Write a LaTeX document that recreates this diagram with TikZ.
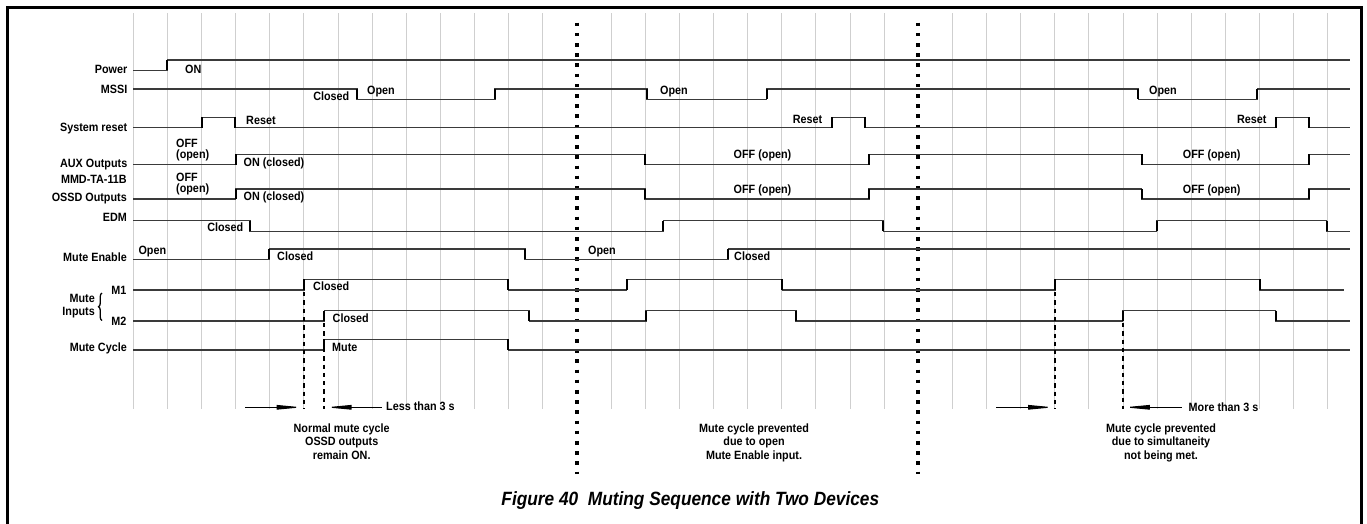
\documentclass[tikz,border=0pt]{standalone}
\usepackage{fontspec}
\setmainfont{Liberation Sans}[FakeStretch=0.9]
\usetikzlibrary{arrows.meta,decorations.pathreplacing}
\definecolor{gridc}{HTML}{CFCFCF}
\definecolor{sigc}{HTML}{3A3A3A}
\tikzset{
  lbl/.style={font=\fontsize{12}{12}\selectfont\bfseries, inner sep=0pt, text=black},
  lbltwo/.style={lbl, align=left, font=\fontsize{12}{11.5}\selectfont\bfseries},
  note/.style={lbl, align=center, font=\fontsize{12}{13.3}\selectfont\bfseries},
  captionfont/.style={inner sep=0pt, font=\fontsize{19.2}{19.2}\selectfont\bfseries\itshape},
  gridln/.style={draw=gridc, line width=0.9pt},
  wire/.style={draw=sigc, line width=1.1pt},
  edgeln/.style={draw=black, line width=2.3pt},
  sepline/.style={draw=black, line width=3.6pt, dash pattern=on 3.6pt off 6.6pt},
  cue/.style={draw=black, line width=2pt, dash pattern=on 4.3pt off 4pt},
  arr/.style={draw=black, line width=1.1pt, -{Triangle[length=26pt,width=4.5pt]}},
  framebox/.style={draw=black, line width=3.5pt},
}
\begin{document}
\begin{tikzpicture}[x=1pt,y=-1pt]
\useasboundingbox (0,0) rectangle (1367,524);
\fill[white] (0,0) rectangle (1367,524);
\draw[framebox] (7.7,530) -- (7.7,7.7) -- (1361.3,7.7) -- (1361.3,530);

% grid
\foreach \i in {0,...,35}{
  \ifnum\i=13\relax\else\ifnum\i=23\relax\else
    \draw[gridln] ({133.3+34.126*\i},13.3) -- ({133.3+34.126*\i},408.5);
  \fi\fi
}

% separators
\draw[sepline] ({133.3+34.126*13},22.7) -- ({133.3+34.126*13},474);
\draw[sepline] ({133.3+34.126*23},22.7) -- ({133.3+34.126*23},474);

% waveforms
\draw[wire] (133.3,70.3) -| (167.3,60) -- (1350,60);
\foreach \x in {167.3} \draw[edgeln] (\x,60) -- (\x,70.3);

\draw[wire] (133.3,89) -| (357,99.3) -| (495,89) -| (647,99.3) -| (766.7,89) -| (1138.3,99.3) -| (1257.3,89) -- (1350,89);
\foreach \x in {357,495,647,766.7,1138.3,1257.3} \draw[edgeln] (\x,89) -- (\x,99.3);

\draw[wire] (133.3,127.7) -| (201.7,117.3) -| (235.3,127.7) -| (832.3,117.3) -| (865,127.7) -| (1275.7,117.3) -| (1309,127.7) -- (1350,127.7);
\foreach \x in {201.7,235.3,832.3,865,1275.7,1309} \draw[edgeln] (\x,117.3) -- (\x,127.7);

\draw[wire] (133.3,164.7) -| (235.7,154.3) -| (645,164.7) -| (869,154.3) -| (1141.7,164.7) -| (1309,154.3) -- (1350,154.3);
\foreach \x in {235.7,645,869,1141.7,1309} \draw[edgeln] (\x,154.3) -- (\x,164.7);

\draw[wire] (133.3,199) -| (235.7,189) -| (645,199) -| (869,189) -| (1141.7,199) -| (1309,189) -- (1350,189);
\foreach \x in {235.7,645,869,1141.7,1309} \draw[edgeln] (\x,189) -- (\x,199);

\draw[wire] (133.3,220.7) -| (250,231.3) -| (663.3,220.7) -| (883.3,231.3) -| (1156.7,220.7) -| (1326.7,231.3) -- (1350,231.3);
\foreach \x in {250,663.3,883.3,1156.7,1326.7} \draw[edgeln] (\x,220.7) -- (\x,231.3);

\draw[wire] (133.3,259.3) -| (269.3,249) -| (525,259.3) -| (728.3,249) -- (1350,249);
\foreach \x in {269.3,525,728.3} \draw[edgeln] (\x,249) -- (\x,259.3);

\draw[wire] (133.3,290) -| (304,279.3) -| (508.3,290) -| (626.7,279.3) -| (782.3,290) -| (1055,279.3) -| (1260,290) -- (1344,290);
\foreach \x in {304,508.3,626.7,782.3,1055,1260} \draw[edgeln] (\x,279.3) -- (\x,290);

\draw[wire] (133.3,321) -| (324.3,310.7) -| (529.3,321) -| (646,310.7) -| (796,321) -| (1122.7,310.7) -| (1275.7,321) -- (1350,321);
\foreach \x in {324.3,529.3,646,796,1122.7,1275.7} \draw[edgeln] (\x,310.7) -- (\x,321);

\draw[wire] (133.3,350) -| (324.3,339.3) -| (508.3,350) -- (1350,350);
\foreach \x in {324.3,508.3} \draw[edgeln] (\x,339.3) -- (\x,350);

% dashed cue lines
\draw[cue] (304,292) -- (304,409);
\draw[cue] (324.3,323) -- (324.3,409);
\draw[cue] (1055,292) -- (1055,409);
\draw[cue] (1122.7,323) -- (1122.7,409);

% left labels
\node[lbl, anchor=base east] (lpow) at (127.5,74) {Power};
\node[lbl, anchor=base east] (lmssi) at (127.5,93.3) {MSSI};
\node[lbl, anchor=base east] (lrst) at (127.5,131.7) {System reset};
\node[lbl, anchor=base east] (laux) at (127.5,167.7) {AUX Outputs};
\node[lbl, anchor=base east] (lmmd) at (127,183.3) {MMD-TA-11B};
\node[lbl, anchor=base east] (lossd) at (127,201.7) {OSSD Outputs};
\node[lbl, anchor=base east] (ledm) at (127,221.7) {EDM};
\node[lbl, anchor=base east] (lme) at (127,261) {Mute Enable};
\node[lbl, anchor=base east] (lm1) at (126.7,294) {M1};
\node[lbl, anchor=base east] (lm2) at (126.7,325.7) {M2};
\node[lbl, anchor=base east] (lmute) at (95,302.7) {Mute};
\node[lbl, anchor=base east] (linp) at (95,315.7) {Inputs};
\node[lbl, anchor=base east] (lmc) at (127,351.7) {Mute Cycle};
\draw[line width=1.3pt, decorate, decoration={brace, amplitude=3.5pt}] (102,320.5) -- (102,293);

% in-signal labels
\node[lbl, anchor=base west] (son) at (185,74) {ON};
\node[lbl, anchor=base east] (smc) at (349.5,101) {Closed};
\node[lbl, anchor=base west] (smo1) at (367,94.3) {Open};
\node[lbl, anchor=base west] (smo2) at (660,94.3) {Open};
\node[lbl, anchor=base west] (smo3) at (1149,94.5) {Open};
\node[lbl, anchor=base west] (sr1) at (246,124.3) {Reset};
\node[lbl, anchor=base east] (sr2) at (822.5,123.5) {Reset};
\node[lbl, anchor=base east] (sr3) at (1266.7,123.7) {Reset};
\node[lbltwo, anchor=base west] (saoff) at (176,158.8) {OFF\\(open)};
\node[lbl, anchor=base west] (saon) at (243.5,166.7) {ON (closed)};
\node[lbl, anchor=base] (saoff2) at (762.5,158.3) {OFF (open)};
\node[lbl, anchor=base] (saoff3) at (1211.7,158.3) {OFF (open)};
\node[lbltwo, anchor=base west] (sooff) at (176,192.5) {OFF\\(open)};
\node[lbl, anchor=base west] (soon) at (243.5,200.5) {ON (closed)};
\node[lbl, anchor=base] (sooff2) at (762.5,193) {OFF (open)};
\node[lbl, anchor=base] (sooff3) at (1211.7,193) {OFF (open)};
\node[lbl, anchor=base east] (sedm) at (243.5,231.7) {Closed};
\node[lbl, anchor=base west] (smeo1) at (138.3,254.3) {Open};
\node[lbl, anchor=base west] (smec1) at (277,260) {Closed};
\node[lbl, anchor=base west] (smeo2) at (588,254) {Open};
\node[lbl, anchor=base west] (smec2) at (734,260) {Closed};
\node[lbl, anchor=base west] (sm1) at (313,290) {Closed};
\node[lbl, anchor=base west] (sm2) at (332.5,322.3) {Closed};
\node[lbl, anchor=base west] (smute) at (332,351.7) {Mute};

% arrows
\coordinate (a1s) at (245,407.3);
\coordinate (a1e) at (302.5,407.3);
\coordinate (a2s) at (381.7,407.3);
\coordinate (a2e) at (325.5,407.3);
\coordinate (a3s) at (996,407.3);
\coordinate (a3e) at (1054,407.3);
\coordinate (a4s) at (1181.7,407.3);
\coordinate (a4e) at (1123.8,407.3);
\draw[arr] (a1s) -- (a1e);
\draw[arr] (a2s) -- (a2e);
\draw[arr] (a3s) -- (a3e);
\draw[arr] (a4s) -- (a4e);
\node[lbl, anchor=base west] (tless) at (386,410) {Less than 3 s};
\node[lbl, anchor=base west] (tmore) at (1188.5,411) {More than 3 s};

% notes
\node[note, anchor=base] (n1) at (341.7,459) {Normal mute cycle\\OSSD outputs\\remain ON.};
\node[note, anchor=base] (n2) at (754,459) {Mute cycle prevented\\due to open\\Mute Enable input.};
\node[note, anchor=base] (n3) at (1161,459) {Mute cycle prevented\\due to simultaneity\\not being met.};

% caption
\node[captionfont, anchor=base] (cap) at (690.3,505) {Figure 40~~Muting Sequence with Two Devices};
\end{tikzpicture}
\end{document}
